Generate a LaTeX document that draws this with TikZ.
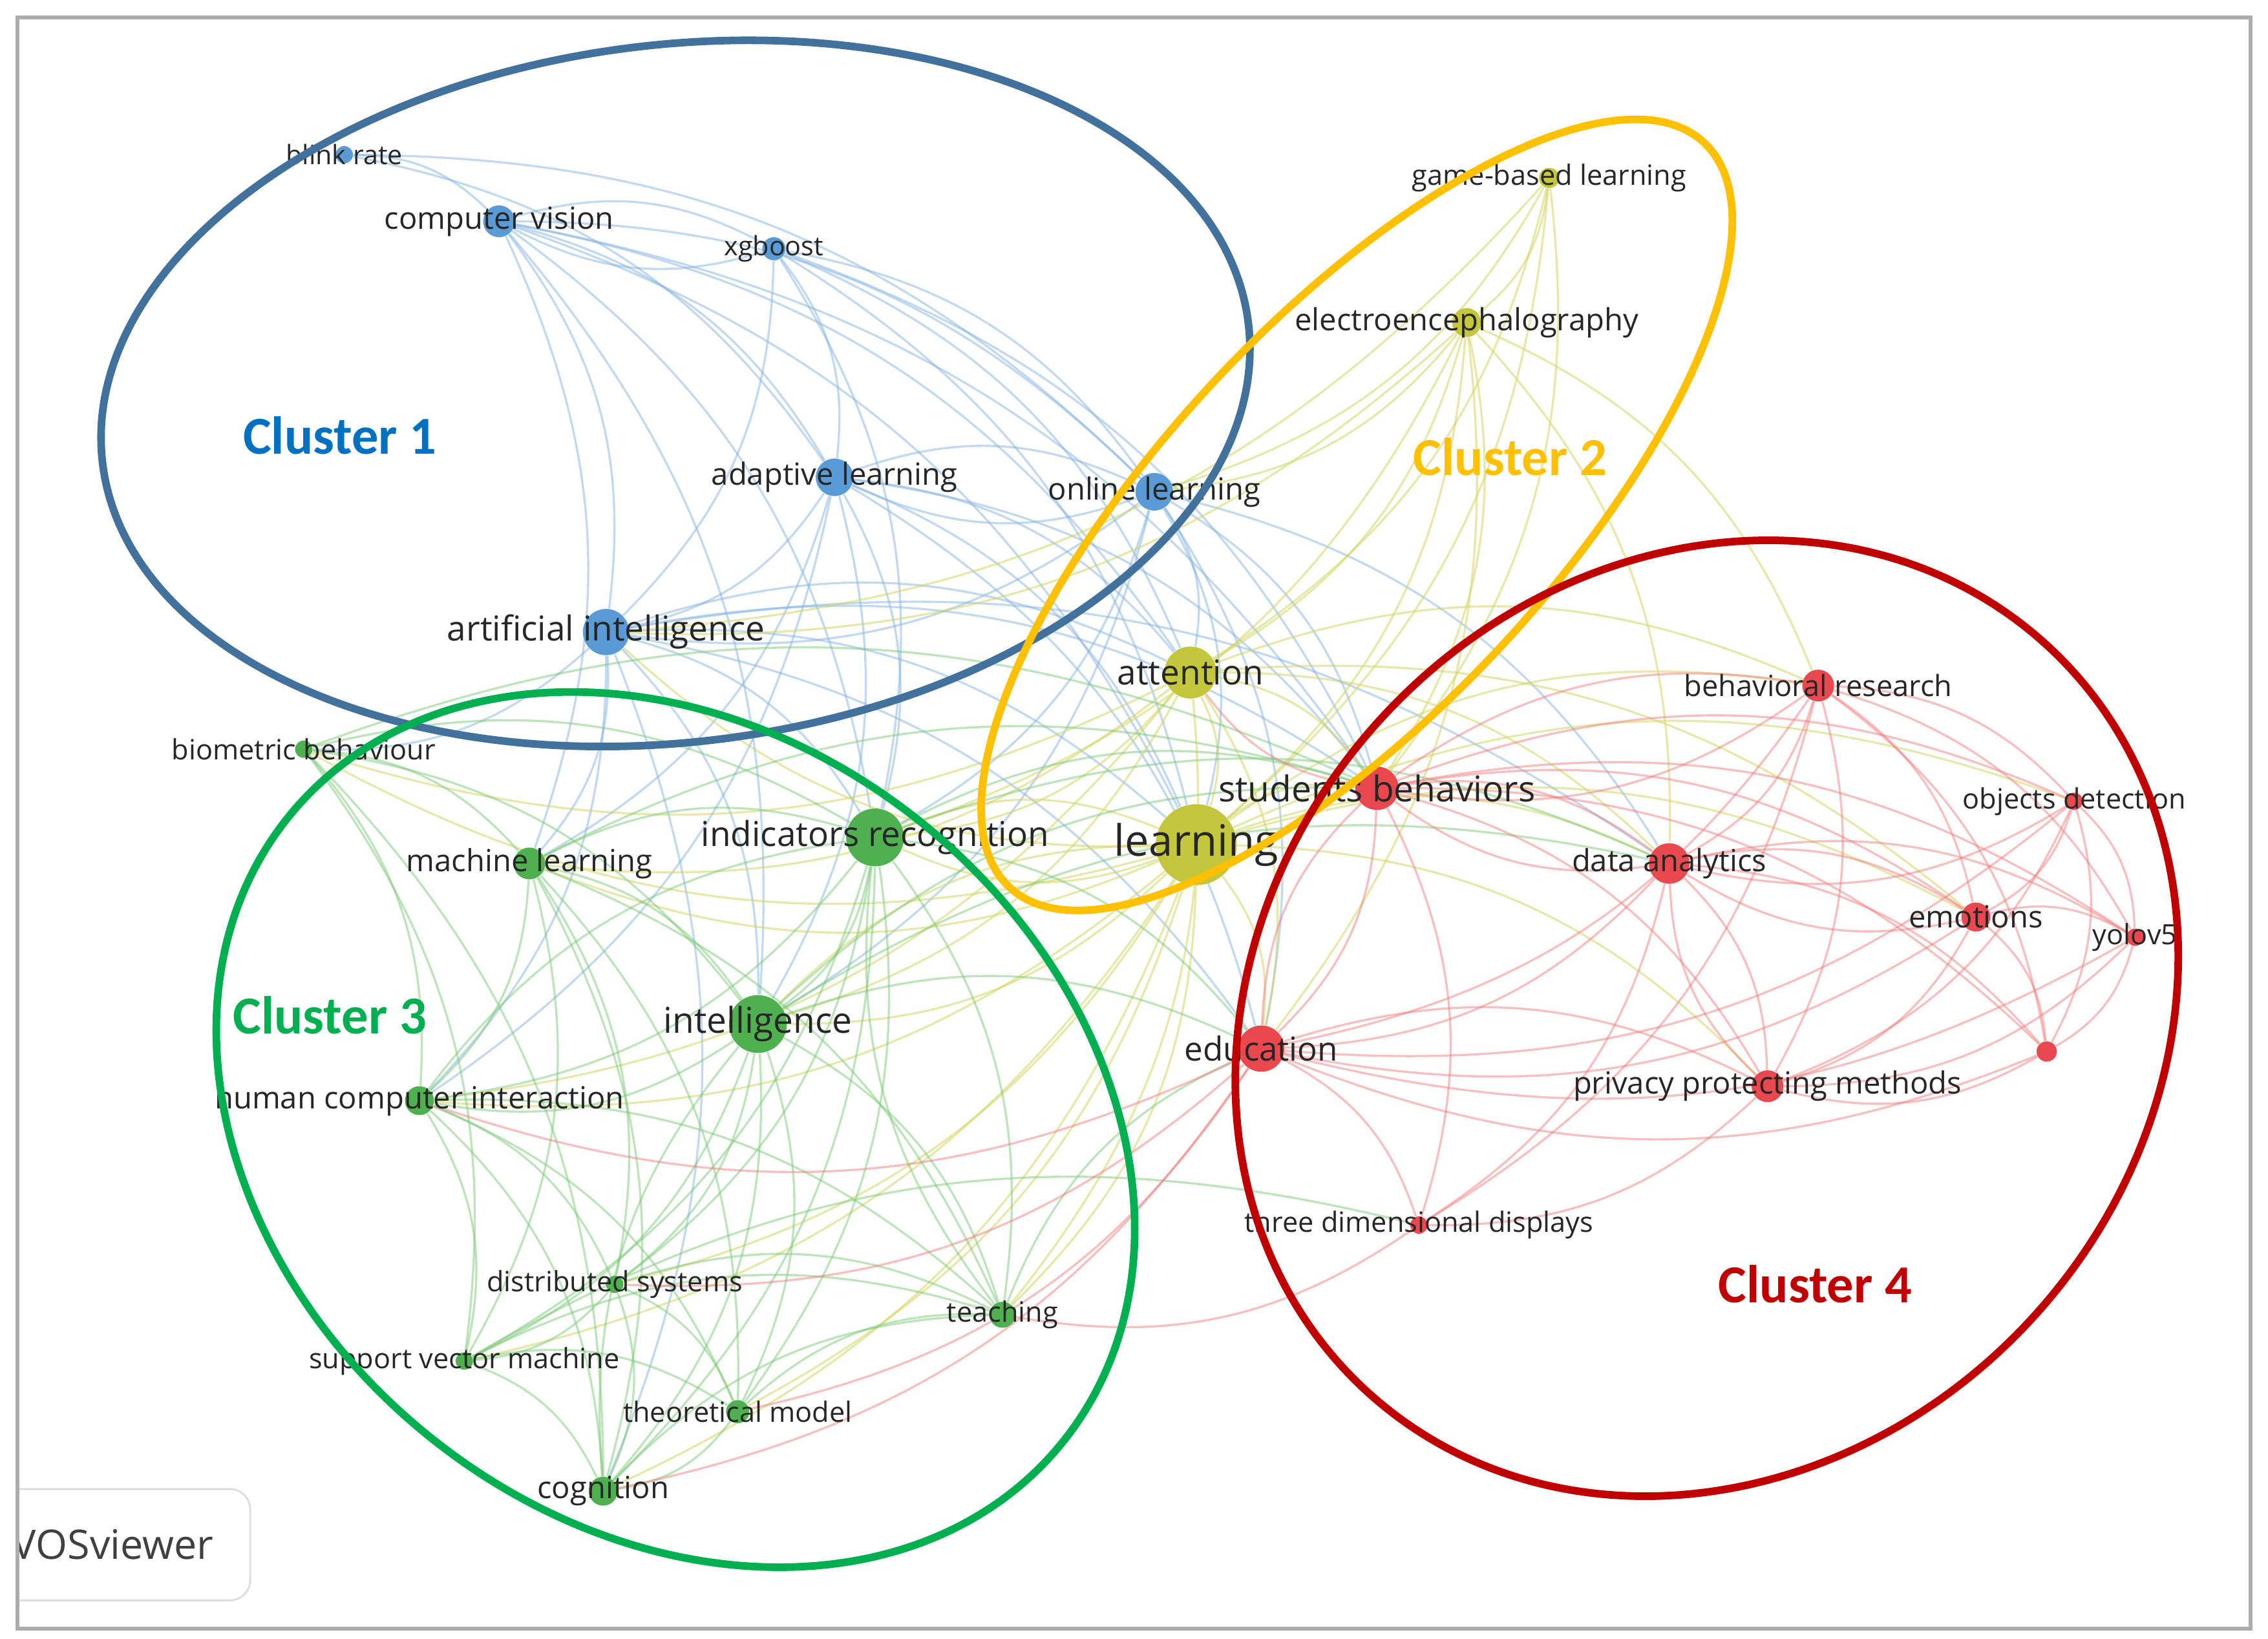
\documentclass[tikz,border=0pt]{standalone}
\usepackage{fontspec}
\setmainfont{Open Sans}
\newfontfamily\carlito{Carlito}
\usetikzlibrary{backgrounds}
\definecolor{c1}{HTML}{5B9BD5}
\definecolor{c2}{HTML}{C4C63C}
\definecolor{c3}{HTML}{4FB04F}
\definecolor{c4}{HTML}{E9494E}
\definecolor{l1}{HTML}{86B4E2}
\definecolor{l2}{HTML}{D0D45A}
\definecolor{l3}{HTML}{7EC97A}
\definecolor{l4}{HTML}{F07F7F}
\definecolor{r1}{HTML}{41719C}
\definecolor{r2}{HTML}{FFC000}
\definecolor{r3}{HTML}{00B050}
\definecolor{r4}{HTML}{C00000}
\definecolor{t1}{HTML}{0070C0}
\begin{document}
\begin{tikzpicture}[x=0.02cm,y=-0.02cm,
	bub/.style 2 args={circle,fill=#1,minimum size=#2*0.04cm,inner sep=0pt},
	kw/.style={font=\fontsize{#1}{#1}\selectfont,text=black!85,inner sep=0pt},
	lnk/.style={draw=#1,line width=.85pt,opacity=.5,bend left=22},
	ring/.style={draw=#1,line width=3pt},
	ctitle/.style={font=\fontsize{21}{21}\carlito\bfseries,text=#1}]
	\useasboundingbox (0,0) rectangle (1568,1133);
	%--------- Cluster 1
	\node[bub={c1}{6},label={[kw=10.5]center:blink rate}] (br) at (238,107) {};
	\node[bub={c1}{11},label={[kw=12]center:computer vision}] (cv) at (345,153) {};
	\node[bub={c1}{8},label={[kw=10.5]center:xgboost}] (xg) at (535,172) {};
	\node[bub={c1}{13},label={[kw=12]center:adaptive learning}] (al) at (577,330) {};
	\node[bub={c1}{13},label={[kw=12]center:online learning}] (ol) at (798,340) {};
	\node[bub={c1}{16},label={[kw=13.5]center:artificial intelligence}] (ai) at (419,437) {};
	%--------- Cluster 2
	\node[bub={c2}{7},label={[kw=11]center:game-based learning}] (gb) at (1071,123) {};
	\node[bub={c2}{10},label={[kw=12]center:electroencephalography}] (eeg) at (1014,223) {};
	\node[bub={c2}{18},label={[kw=13.5]center:attention}] (att) at (823,465) {};
	\node[bub={c2}{28},label={[kw=17]center:learning}] (lrn) at (827,584) {};
	%--------- Cluster 3
	\node[bub={c3}{6},label={[kw=11]center:biometric behaviour}] (bb) at (210,518) {};
	\node[bub={c3}{11},label={[kw=12]center:machine learning}] (ml) at (366,597) {};
	\node[bub={c3}{20},label={[kw=13.5]center:indicators recognition}] (ir) at (605,579) {};
	\node[bub={c3}{20},label={[kw=14]center:intelligence}] (int) at (524,708) {};
	\node[bub={c3}{10},label={[kw=12]center:human computer interaction}] (hci) at (290,761) {};
	\node[bub={c3}{6},label={[kw=11]center:distributed systems}] (ds) at (425,888) {};
	\node[bub={c3}{9},label={[kw=11]center:teaching}] (tch) at (693,909) {};
	\node[bub={c3}{6},label={[kw=11]center:support vector machine}] (svm) at (321,941) {};
	\node[bub={c3}{8},label={[kw=11]center:theoretical model}] (tm) at (510,976) {};
	\node[bub={c3}{10},label={[kw=12]center:cognition}] (cog) at (417,1031) {};
	%--------- Cluster 4
	\node[bub={c4}{15},label={[kw=14]center:students behaviors}] (sb) at (952,545) {};
	\node[bub={c4}{11},label={[kw=11.5]center:behavioral research}] (brs) at (1257,474) {};
	\node[bub={c4}{6},label={[kw=11]center:objects detection}] (od) at (1434,554) {};
	\node[bub={c4}{14},label={[kw=12]center:data analytics}] (da) at (1154,597) {};
	\node[bub={c4}{10},label={[kw=12]center:emotions}] (emo) at (1366,634) {};
	\node[bub={c4}{6},label={[kw=11]center:yolov5}] (yolo) at (1476,648) {};
	\node[bub={c4}{7}] (unk) at (1415,727) {};
	\node[bub={c4}{16},label={[kw=13]center:education}] (edu) at (872,725) {};
	\node[bub={c4}{11},label={[kw=12]center:privacy protecting methods}] (ppm) at (1222,751) {};
	\node[bub={c4}{6},label={[kw=11]center:three dimensional displays}] (tdd) at (981,847) {};
	%--------- Links
	\begin{pgfonlayer}{background}
		\foreach \a/\b in {br/cv,br/al,br/ol,cv/xg,cv/al,cv/ol,cv/ai,cv/ir,cv/lrn,cv/int,cv/att,cv/ml,cv/sb,
			xg/al,xg/ol,xg/ai,xg/lrn,xg/att,xg/sb,xg/ir,xg/cv,al/ol,al/ai,al/ir,al/int,al/lrn,al/att,al/ml,al/edu,al/sb,
			al/hci,ol/ai,ol/ir,ol/lrn,ol/att,ol/sb,ol/edu,ol/da,ol/al,ol/int,ai/ir,ai/int,ai/ml,ai/lrn,ai/att,ai/sb,
			ai/hci,ai/edu,ai/bb,ai/cog,ai/da}
		\draw[lnk=l1] (\a) to (\b);
		\foreach \a/\b in {gb/eeg,gb/att,gb/lrn,gb/sb,gb/ol,gb/ai,eeg/att,eeg/lrn,eeg/sb,eeg/ir,eeg/ai,eeg/edu,eeg/brs,
			eeg/ol,eeg/da,att/lrn,att/sb,att/ir,att/int,att/ml,att/edu,att/da,att/hci,att/tch,att/brs,att/emo,att/bb,
			lrn/sb,lrn/ir,lrn/int,lrn/edu,lrn/ml,lrn/hci,lrn/da,lrn/brs,lrn/tch,lrn/cog,lrn/tm,lrn/ds,lrn/emo,lrn/ppm,
			lrn/bb,lrn/od,lrn/svm,lrn/ai,ir/lrn,int/lrn}
		\draw[lnk=l2] (\a) to (\b);
		\foreach \a/\b in {bb/ml,bb/hci,bb/ir,bb/int,bb/cog,bb/svm,bb/sb,ml/ir,ml/int,ml/hci,ml/ds,ml/svm,ml/tm,ml/cog,
			ml/tch,ml/sb,ir/int,ir/hci,ir/ds,ir/tch,ir/svm,ir/tm,ir/cog,ir/sb,ir/edu,ir/da,int/hci,int/ds,int/tch,
			int/svm,int/tm,int/cog,int/sb,int/edu,int/da,hci/ds,hci/svm,hci/tm,hci/cog,hci/tch,hci/ir,ds/svm,ds/tm,
			ds/cog,ds/tch,svm/tm,svm/cog,svm/tch,tm/cog,tm/tch,cog/tch,tch/edu,svm/tdd,tch/ir,cog/int}
		\draw[lnk=l3] (\a) to (\b);
		\foreach \a/\b in {sb/brs,sb/od,sb/da,sb/emo,sb/yolo,sb/unk,sb/edu,sb/ppm,sb/tdd,brs/od,brs/da,brs/emo,brs/yolo,
			brs/unk,brs/edu,brs/ppm,brs/tdd,od/da,od/emo,od/yolo,od/unk,od/edu,od/ppm,da/emo,da/yolo,da/unk,da/edu,
			da/ppm,da/tdd,emo/yolo,emo/unk,emo/edu,emo/ppm,yolo/unk,yolo/edu,yolo/ppm,unk/edu,unk/ppm,edu/ppm,
			edu/tdd,edu/hci,edu/cog,edu/tm,edu/ds,ppm/tdd,tdd/tch,sb/att,da/sb,edu/sb,brs/sb,emo/da,ppm/da}
		\draw[lnk=l4] (\a) to (\b);
	\end{pgfonlayer}
	%--------- Cluster rings
	\draw[ring=r1,rotate around={7:(467,272)}] (467,272) ellipse [x radius=399,y radius=241];
	\draw[ring=r2,rotate around={47:(938,356)}] (938,356) ellipse [x radius=352,y radius=135];
	\draw[ring=r3,rotate around={-39:(467,781)}] (467,781) ellipse [x radius=344,y radius=272];
	\draw[ring=r4,rotate around={48:(1180,704)}] (1180,704) ellipse [x radius=349,y radius=306];
	\node[ctitle=t1] (t1) at (235,301) {Cluster 1};
	\node[ctitle=r2] (t2) at (1044,316) {Cluster 2};
	\node[ctitle=r3] (t3) at (228,702) {Cluster 3};
	\node[ctitle=r4] (t4) at (1255,888) {Cluster 4};
	%--------- Frame
	\begin{scope}
		\clip (12,12) rectangle (1556,1126);
		\node[draw=gray!25,line width=.8pt,rounded corners=8pt,minimum width=3.8cm,minimum height=1.54cm,
			font=\fontsize{16}{16}\selectfont,text=black!75] (vos) at (78,1068) {VOSviewer};
	\end{scope}
	\draw[gray!65,line width=1.6pt] (12,12) rectangle (1556,1126);
\end{tikzpicture}
\end{document}
